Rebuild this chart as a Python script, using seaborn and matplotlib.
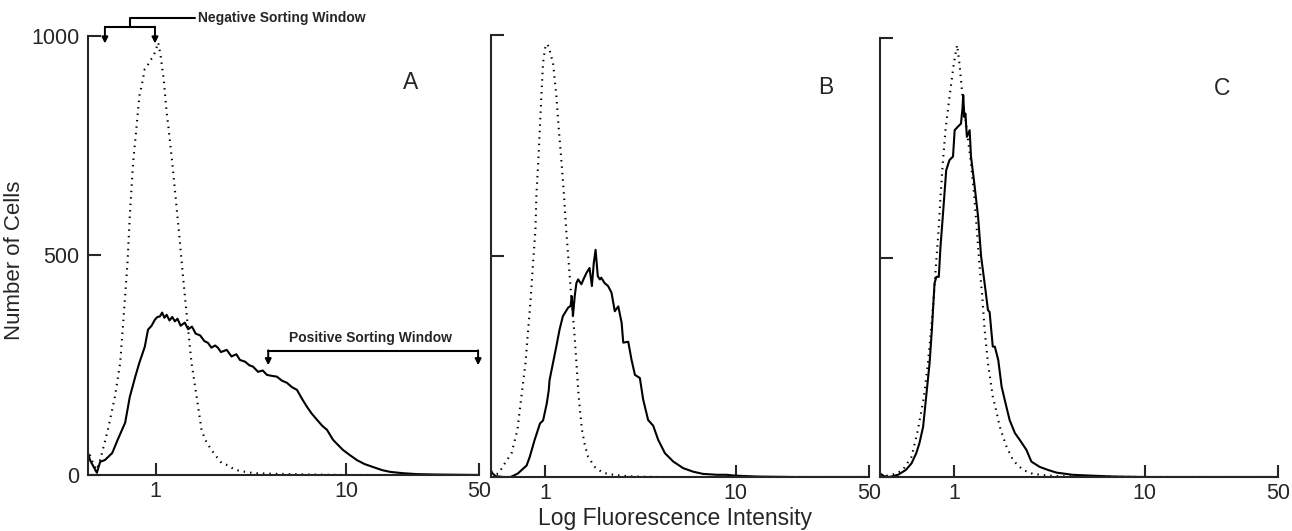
import matplotlib
matplotlib.use('Agg')
import matplotlib.pyplot as plt
from matplotlib.ticker import NullLocator
import seaborn as sns

sns.set_style('ticks')
plt.rcParams['font.family'] = ['Liberation Sans', 'DejaVu Sans']

# Panel A: control (dotted) and stained (solid) histograms
a_dot_x = [0.44, 0.45, 0.47, 0.49, 0.51, 0.56, 0.61, 0.65, 0.68, 0.71, 0.73, 0.76, 0.79, 0.82,
           0.85, 0.875, 0.90, 0.93, 0.96, 0.99, 1.03, 1.06, 1.10, 1.14, 1.16, 1.22, 1.32, 1.39,
           1.45, 1.54, 1.64, 1.74, 1.82, 1.96, 2.1, 2.22, 2.4, 2.6, 2.87, 3.3, 4.0, 5.0, 6.5, 10, 50]
a_dot_y = [30, 45, 25, 12, 34, 103, 179, 256, 370, 484, 590, 712, 788, 864,
           895, 925, 930, 944, 950, 963, 985, 955, 902, 826, 800, 712, 559, 452,
           370, 256, 178, 103, 80, 57, 40, 27, 22, 12, 8, 4, 3, 2, 1, 0, 0]
a_sol_x = [0.44, 0.45, 0.46, 0.48, 0.49, 0.50, 0.51, 0.54, 0.59, 0.63, 0.66, 0.69, 0.73, 0.78,
           0.82, 0.875, 0.91, 0.95, 0.99, 1.02, 1.05, 1.08, 1.11, 1.14, 1.18, 1.22, 1.26, 1.30,
           1.35, 1.42, 1.48, 1.55, 1.62, 1.71, 1.80, 1.88, 1.96, 2.05, 2.12, 2.20, 2.36, 2.50,
           2.65, 2.77, 2.95, 3.10, 3.24, 3.45, 3.65, 3.84, 4.05, 4.33, 4.6, 4.89, 5.2, 5.52,
           5.9, 6.24, 6.6, 7.03, 7.5, 7.94, 8.55, 9.1, 9.64, 10.5, 11.4, 12.5, 13.9, 15.5,
           17.1, 20, 23.6, 30, 50]
a_sol_y = [50, 35, 27, 12, 5, 18, 30, 34, 50, 80, 100, 119, 178, 224,
           256, 292, 331, 340, 354, 360, 361, 370, 358, 365, 352, 360, 350, 356,
           340, 347, 332, 338, 322, 318, 305, 301, 290, 295, 290, 280, 285, 270,
           275, 262, 258, 250, 247, 235, 238, 228, 226, 224, 215, 210, 200, 194,
           172, 155, 140, 126, 112, 103, 80, 68, 57, 45, 34, 25, 18, 11,
           7, 4, 2, 1, 0]

# Panel B
b_dot_x = [0.52, 0.54, 0.57, 0.615, 0.667, 0.716, 0.751, 0.789, 0.815, 0.842, 0.865, 0.89,
           0.90, 0.92, 0.938, 0.956, 0.976, 1.00, 1.02, 1.05, 1.07, 1.10, 1.146, 1.18, 1.22,
           1.257, 1.29, 1.33, 1.37, 1.42, 1.46, 1.50, 1.56, 1.62, 1.68, 1.82, 2.0, 2.2, 2.5,
           3.0, 4.0, 50]
b_dot_y = [10, 5, 8, 31, 54, 107, 182, 258, 333, 409, 485, 560,
           636, 711, 787, 862, 938, 970, 980, 972, 955, 938, 862, 787, 711,
           636, 560, 485, 409, 333, 258, 182, 107, 70, 46, 23, 10, 6, 3,
           1, 0, 0]
b_sol_x = [0.52, 0.53, 0.55, 0.60, 0.66, 0.72, 0.75, 0.80, 0.83, 0.88, 0.94, 0.976, 1.02,
           1.045, 1.055, 1.10, 1.146, 1.19, 1.24, 1.32, 1.36, 1.38, 1.40, 1.43, 1.46, 1.49,
           1.55, 1.60, 1.65, 1.71, 1.76, 1.80, 1.84, 1.89, 1.94, 1.97, 2.05, 2.14, 2.23, 2.32,
           2.42, 2.52, 2.57, 2.73, 2.84, 2.96, 3.14, 3.27, 3.47, 3.69, 3.92, 4.25, 4.70, 5.30,
           5.98, 6.74, 8.0, 8.94, 10, 13, 20, 50]
b_sol_y = [15, 8, 2, 0, 0, 8, 15, 26, 45, 83, 121, 128, 166,
           196, 219, 258, 296, 333, 364, 383, 387, 409, 364, 409, 439, 447,
           436, 450, 462, 473, 432, 484, 514, 454, 447, 451, 439, 432, 417, 375,
           386, 349, 304, 306, 265, 231, 224, 175, 129, 116, 84, 54, 35, 20,
           12, 7, 5, 5, 3, 1, 0, 0]

# Panel C
c_dot_x = [0.41, 0.45, 0.50, 0.54, 0.60, 0.648, 0.697, 0.731, 0.76, 0.785, 0.807, 0.832,
           0.851, 0.875, 0.904, 0.949, 1.00, 1.04, 1.07, 1.11, 1.17, 1.23, 1.28, 1.32, 1.36,
           1.41, 1.45, 1.51, 1.60, 1.67, 1.74, 1.80, 1.89, 2.04, 2.15, 2.31, 2.60, 3.0, 3.5,
           5, 10, 50]
c_dot_y = [5, 3, 8, 16, 46, 107, 183, 259, 335, 411, 487, 563,
           638, 715, 790, 866, 942, 984, 942, 866, 790, 715, 638, 563, 487,
           411, 335, 259, 183, 150, 115, 95, 69, 39, 28, 16, 7, 4, 2,
           1, 0, 0]
c_sol_x = [0.41, 0.43, 0.46, 0.51, 0.56, 0.60, 0.635, 0.66, 0.69, 0.716, 0.746, 0.767, 0.792,
           0.81, 0.834, 0.851, 0.875, 0.912, 0.949, 0.99, 1.01, 1.05, 1.09, 1.11, 1.12, 1.135,
           1.15, 1.17, 1.21, 1.23, 1.28, 1.34, 1.39, 1.45, 1.51, 1.54, 1.60, 1.64, 1.71, 1.78,
           1.85, 1.96, 2.09, 2.22, 2.40, 2.55, 2.82, 3.12, 3.45, 4.2, 5.3, 7, 10, 50]
c_sol_y = [8, 2, 0, 5, 16, 31, 54, 77, 114, 183, 259, 335, 441,
           456, 456, 524, 593, 699, 722, 730, 790, 798, 805, 840, 870, 820,
           828, 775, 790, 730, 669, 593, 502, 441, 380, 376, 297, 297, 266, 206,
           175, 130, 100, 84, 62, 35, 23, 16, 10, 5, 3, 1, 0, 0]

x_ticks = [1, 10, 50]
x_tick_labels = ['1', '10', '50']
y_ticks = [0, 500, 1000]
y_tick_labels = ['0', '500', '1000']

panels = [
    ('A', a_dot_x, a_dot_y, a_sol_x, a_sol_y, 0.44, [0.0681, 0.1055, 0.3026, 0.8267], (0.826, 0.893)),
    ('B', b_dot_x, b_dot_y, b_sol_x, b_sol_y, 0.52, [0.3800, 0.1017, 0.2926, 0.8324], (0.886, 0.882)),
    ('C', c_dot_x, c_dot_y, c_sol_x, c_sol_y, 0.41, [0.6811, 0.1017, 0.3080, 0.8267], (0.859, 0.886)),
]

fig = plt.figure(figsize=(12.92, 5.31), dpi=100)
axes = []
for i, (letter, dx, dy, sx, sy, xlo, rect, lpos) in enumerate(panels):
    ax = fig.add_axes(rect)
    sns.lineplot(x=dx, y=dy, ax=ax, color='black', lw=1.5, linestyle=(0, (0.7, 2.4)),
                 estimator=None, sort=False)
    sns.lineplot(x=sx, y=sy, ax=ax, color='black', lw=1.5, estimator=None, sort=False)
    ax.set_xscale('log')
    ax.set_xlim(xlo, 50)
    ax.set_ylim(0, 1000)
    ax.set_xticks(x_ticks)
    ax.set_xticklabels(x_tick_labels)
    ax.xaxis.set_minor_locator(NullLocator())
    ax.set_yticks(y_ticks)
    if i == 0:
        ax.set_yticklabels(y_tick_labels)
    else:
        ax.set_yticklabels([])
    ax.set_xlabel('')
    ax.set_ylabel('')
    sns.despine(ax=ax)
    for side in ['left', 'bottom']:
        ax.spines[side].set_linewidth(1.5)
    ax.tick_params(direction='in', length=9, width=1.5, labelsize=15.5, pad=6)
    ax.tick_params(axis='x', pad=4)
    ax.text(lpos[0], lpos[1], letter, transform=ax.transAxes, fontsize=16.5,
            ha='center', va='center')
    axes.append(ax)

axA = axes[0]
arrow_kw = dict(arrowstyle='-|>', color='black', lw=1.4, mutation_scale=9, shrinkA=0, shrinkB=0)

# negative sorting window bracket
axA.plot([0.54, 0.99], [1020, 1020], color='black', lw=1.5, clip_on=False)
axA.plot([0.73, 0.73, 1.6], [1020, 1042, 1042], color='black', lw=1.5, clip_on=False)
for xv in [0.54, 0.99]:
    axA.annotate('', xy=(xv, 983), xytext=(xv, 1021), arrowprops=arrow_kw, annotation_clip=False)
axA.text(1.66, 1040, 'Negative Sorting Window', fontsize=10, fontweight='bold',
         ha='left', va='center', clip_on=False)

# positive sorting window bracket
axA.plot([3.9, 49.5], [283, 283], color='black', lw=1.5, clip_on=False)
for xv in [3.9, 49.5]:
    axA.annotate('', xy=(xv, 250), xytext=(xv, 284), arrowprops=arrow_kw, annotation_clip=False)
axA.text(13.4, 313, 'Positive Sorting Window', fontsize=10, fontweight='bold',
         ha='center', va='center')

fig.text(675 / 1292, 1 - 519 / 531, 'Log Fluorescence Intensity', fontsize=16.5,
         ha='center', va='center')
fig.text(15 / 1292, 1 - 260 / 531, 'Number of Cells', fontsize=16, rotation=90,
         ha='center', va='center')

fig.savefig('out.png', dpi=100)
